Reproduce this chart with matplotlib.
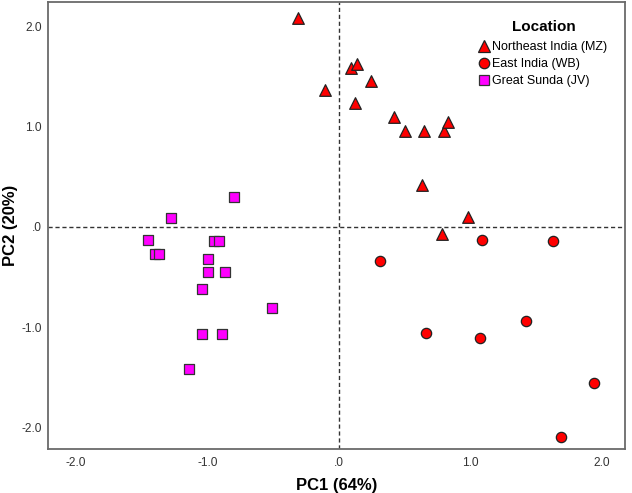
import matplotlib
matplotlib.use('Agg')
import matplotlib.pyplot as plt
from matplotlib.lines import Line2D

plt.rcParams['font.family'] = ['Liberation Sans', 'DejaVu Sans']

# PC scores
mz_pc1 = [-0.31, -0.11, 0.09, 0.14, 0.24, 0.12, 0.42, 0.50, 0.65, 0.80, 0.83, 0.63, 0.98, 0.78]
mz_pc2 = [2.08, 1.36, 1.58, 1.62, 1.45, 1.23, 1.09, 0.95, 0.95, 0.95, 1.04, 0.42, 0.10, -0.07]

wb_pc1 = [0.31, 1.09, 1.63, 0.66, 1.07, 1.42, 1.94, 1.69]
wb_pc2 = [-0.34, -0.13, -0.14, -1.06, -1.11, -0.94, -1.56, -2.10]

jv_pc1 = [-0.80, -1.28, -1.45, -0.95, -0.91, -1.40, -1.37, -1.00, -1.00, -0.87,
          -1.04, -0.51, -1.04, -0.89, -1.14]
jv_pc2 = [0.30, 0.09, -0.13, -0.14, -0.14, -0.27, -0.27, -0.32, -0.45, -0.45,
          -0.62, -0.81, -1.07, -1.07, -1.42]

tick_vals = [-2.0, -1.0, 0.0, 1.0, 2.0]
tick_labels = ['-2.0', '-1.0', '.0', '1.0', '2.0']

groups = ['Northeast India (MZ)', 'East India (WB)', 'Great Sunda (JV)']

fig = plt.figure(figsize=(6.32, 4.93), dpi=100)
ax = fig.add_axes([0.0755, 0.0892, 0.9135, 0.906])

# reference lines through the origin
ax.axhline(0, color='#333333', lw=1.0, ls=(0, (3, 2)), zorder=1)
ax.axvline(0, color='#333333', lw=1.0, ls=(0, (3, 2)), zorder=1)

ax.scatter(mz_pc1, mz_pc2, marker='^', s=70, c='#ff0000', edgecolors='#222222', linewidths=0.9, zorder=3)
ax.scatter(wb_pc1, wb_pc2, marker='o', s=55, c='#ff0000', edgecolors='#222222', linewidths=0.9, zorder=3)
ax.scatter(jv_pc1, jv_pc2, marker='s', s=55, c='#ff00ff', edgecolors='#333333', linewidths=0.9, zorder=3)

ax.set_xlim(-2.215, 2.175)
ax.set_ylim(-2.216, 2.237)
ax.set_xticks(tick_vals)
ax.set_xticklabels(tick_labels)
ax.set_yticks(tick_vals)
ax.set_yticklabels(tick_labels)
ax.tick_params(axis='both', length=0, labelsize=8.6, colors='#333333')
ax.tick_params(axis='x', pad=6)
ax.tick_params(axis='y', pad=4.5)

for sp in ax.spines.values():
    sp.set_color('#6a6a6a')
    sp.set_linewidth(1.3)

ax.set_xlabel('PC1 (64%)', fontsize=12, fontweight='bold', labelpad=6)
ax.set_ylabel('PC2 (20%)', fontsize=12, fontweight='bold', labelpad=2)

handles = [
    Line2D([], [], ls='none', marker='^', ms=8, mfc='#ff0000', mec='#222222', mew=0.9),
    Line2D([], [], ls='none', marker='o', ms=7.5, mfc='#ff0000', mec='#222222', mew=0.9),
    Line2D([], [], ls='none', marker='s', ms=7.5, mfc='#ff00ff', mec='#333333', mew=0.9),
]
leg = ax.legend(handles, groups, title='Location', loc='upper right',
                bbox_to_anchor=(0.988, 0.985), frameon=False, fontsize=9,
                handlelength=0.6, handletextpad=0.32, labelspacing=0.4,
                title_fontproperties={'size': 11, 'weight': 'bold'})
leg._legend_box.align = 'center'
leg._legend_box.sep = 5

fig.savefig('out.png', dpi=100)
